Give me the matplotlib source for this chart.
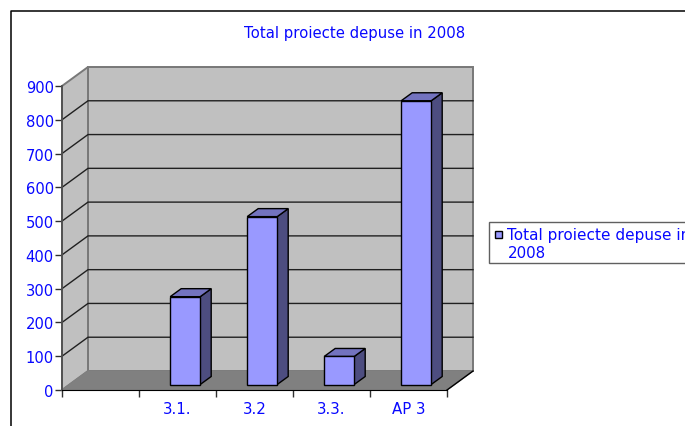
import matplotlib
matplotlib.use('Agg')
import matplotlib.pyplot as plt
from matplotlib.patches import Polygon, Rectangle

categories = ['', '3.1.', '3.2', '3.3.', 'AP 3']
values = [None, 260, 497, 83, 840]
y_ticks = [0, 100, 200, 300, 400, 500, 600, 700, 800, 900]
title = 'Total proiecte depuse in 2008'

BLUE = '#0808ff'
W, H = 685, 427

plt.rcParams['font.family'] = ['DejaVu Sans']
fig = plt.figure(figsize=(W / 100, H / 100), dpi=100)

# chart frame, runs off the right and bottom of the picture
bg = fig.add_axes([0, 0, 1, 1])
bg.set_xlim(0, W)
bg.set_ylim(H, 0)
bg.axis('off')
bg.plot([11.5, 11.5, W], [H, 12, 12], color='black', lw=1.1)

# axes = front plane of the fake 3d box
x0, x1, y0, y1 = 62, 447, 391, 87
ax = fig.add_axes([x0 / W, 1 - y0 / H, (x1 - x0) / W, (y0 - y1) / H])
ax.set_xlim(0, len(categories))
ax.set_ylim(0, 900)
ax.patch.set_visible(False)
for s in ax.spines.values():
    s.set_visible(False)

# depth offset in data units
dx = 26 / 77
dy = 19 / (304 / 900)
xmax = len(categories)


def poly(pts, fc, ec, lw=1.0, z=1):
    ax.add_patch(Polygon(pts, closed=True, facecolor=fc, edgecolor=ec, lw=lw,
                         zorder=z, clip_on=False))


# walls and floor
poly([(dx, dy), (xmax + dx, dy), (xmax + dx, 900 + dy), (dx, 900 + dy)], '#c0c0c0', '#787878', 1.4)
poly([(0, 0), (dx, dy), (dx, 900 + dy), (0, 900)], '#c0c0c0', '#787878', 1.4)
poly([(0, 0), (xmax, 0), (xmax + dx, dy), (dx, dy)], '#808080', '#808080', 1.0)

# gridlines on both walls, the top one is the grey wall edge
for v in y_ticks[1:-1]:
    ax.plot([0, dx, xmax + dx], [v, v + dy, v + dy], color='#202020', lw=1.0,
            zorder=2, clip_on=False)
ax.plot([xmax, xmax + dx], [0, dy], color='black', lw=1.0, zorder=2, clip_on=False)

# bars
bar_w = 30 / 77
off_x = 0.1
off_y = 5.5 / (304 / 900)
bdx = 11 / 77
bdy = 8 / (304 / 900)
for i, v in enumerate(values):
    if v is None:
        continue
    l = i + 0.5 - bar_w / 2 + off_x
    r = l + bar_w
    b = off_y
    t = off_y + v
    poly([(r, b), (r + bdx, b + bdy), (r + bdx, t + bdy), (r, t)], '#4d4d80', 'black', 1.0, 3)
    poly([(l, t), (r, t), (r + bdx, t + bdy), (l + bdx, t + bdy)], '#7373bf', 'black', 1.0, 3)
    poly([(l, b), (r, b), (r, t), (l, t)], '#9999ff', 'black', 1.0, 4)

ax.spines['left'].set_visible(True)
ax.spines['bottom'].set_visible(True)
ax.spines['left'].set_color('#505050')
ax.spines['left'].set_linewidth(1.3)
ax.spines['bottom'].set_color('black')
ax.spines['left'].set_zorder(5)
ax.spines['bottom'].set_zorder(5)
ax.set_yticks(y_ticks)
ax.set_xticks(range(len(categories) + 1))
ax.set_xticklabels([])
ax.set_xticks([i + 0.5 for i in range(len(categories))], minor=True)
ax.set_xticklabels(categories, minor=True)
ax.tick_params(axis='x', which='minor', length=0, pad=8, labelsize=10.8, labelcolor=BLUE)
ax.tick_params(axis='x', which='major', length=5, width=1, color='#303030')
ax.tick_params(axis='y', length=5, width=1, color='#303030', pad=1, labelsize=10.6, labelcolor=BLUE)

bg.text(354.5, 33.5, title, color=BLUE, fontsize=10.7, ha='center', va='center')

# legend, cut off by the picture edge like the original
bg.add_patch(Rectangle((489, 222.7), 220, 41.3, fc='white', ec='#606060', lw=1.0, clip_on=True))
bg.add_patch(Rectangle((495, 231.5), 7.5, 7.5, fc='#9999ff', ec='black', lw=1.0))
bg.text(507.5, 235.5, 'Total proiecte depuse in', color=BLUE, fontsize=11, va='center', clip_on=True)
bg.text(507.5, 254, '2008', color=BLUE, fontsize=10.8, va='center')

fig.savefig('out.png', dpi=100)
